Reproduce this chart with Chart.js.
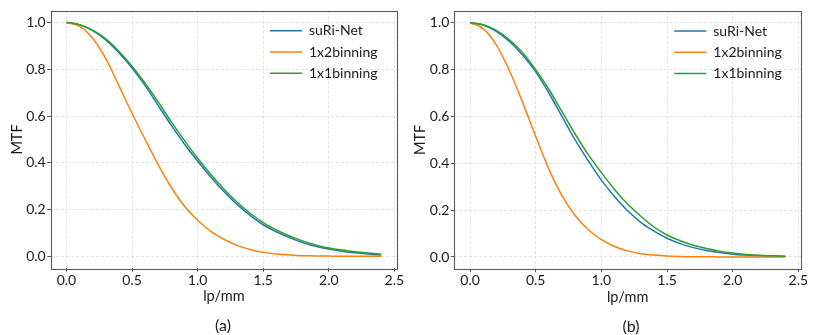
<!DOCTYPE html>
<html>
<head>
<meta charset="utf-8">
<script src="https://cdn.jsdelivr.net/npm/chart.js@4/dist/chart.umd.min.js"></script>
<style>
  html, body { margin: 0; padding: 0; background: #fff; }
  #wrap { position: relative; width: 831px; height: 335px; overflow: hidden; }
  canvas { position: absolute; left: 0; top: 0; }
  .cap { position: absolute; font-family: Lato, "Open Sans", sans-serif; font-size: 16px; color: #1a1a1a; transform: translate(-50%, -50%); white-space: nowrap; }
</style>
</head>
<body>
<div id="wrap">
  <canvas id="ca" width="831" height="335"></canvas>
  <canvas id="cb" width="831" height="335"></canvas>
  <div class="cap" style="left:223px; top:324px;">(a)</div>
  <div class="cap" style="left:631px; top:325px;">(b)</div>
</div>
<script>
// ---- data ----
const freq = [0.0,0.1,0.2,0.3,0.4,0.5,0.6,0.7,0.8,0.9,1.0,1.1,1.2,1.3,1.4,1.5,1.6,1.7,1.8,1.9,2.0,2.1,2.2,2.3,2.4];
const seriesNames = ["suRi-Net", "1x2binning", "1x1binning"];

// panel (a)
const a_suRiNet   = [1.000,0.990,0.965,0.925,0.870,0.805,0.730,0.645,0.560,0.480,0.408,0.340,0.278,0.223,0.176,0.136,0.106,0.081,0.060,0.044,0.032,0.023,0.016,0.011,0.007];
const a_bin1x2    = [1.000,0.983,0.932,0.845,0.730,0.612,0.500,0.392,0.295,0.215,0.155,0.108,0.074,0.048,0.030,0.018,0.011,0.007,0.004,0.003,0.002,0.001,0.001,0.001,0.001];
const a_bin1x1    = [1.000,0.990,0.967,0.930,0.877,0.813,0.740,0.660,0.575,0.495,0.420,0.352,0.289,0.233,0.185,0.145,0.114,0.088,0.067,0.050,0.037,0.028,0.021,0.015,0.010];

// panel (b)
const b_suRiNet   = [1.000,0.990,0.963,0.920,0.862,0.790,0.700,0.600,0.500,0.410,0.328,0.258,0.197,0.148,0.110,0.080,0.057,0.040,0.028,0.019,0.012,0.008,0.005,0.004,0.003];
const b_bin1x2    = [1.000,0.975,0.905,0.795,0.660,0.515,0.375,0.262,0.177,0.116,0.074,0.045,0.026,0.014,0.008,0.004,0.002,0.001,0.001,0.000,0.000,0.000,0.000,0.000,0.000];
const b_bin1x1    = [1.000,0.991,0.967,0.927,0.872,0.800,0.716,0.620,0.525,0.437,0.360,0.288,0.226,0.174,0.128,0.094,0.069,0.050,0.036,0.025,0.017,0.011,0.007,0.005,0.003];

const xTicks = [0.0, 0.5, 1.0, 1.5, 2.0, 2.5];
const yTicks = [0.0, 0.2, 0.4, 0.6, 0.8, 1.0];
const xLabel = "lp/mm";
const yLabel = "MTF";

// ---- styling ----
const COLORS = ["#1f77b4", "#ff7f0e", "#2ca02c"];
const FONT = "Lato, 'Open Sans', sans-serif";
const TEXT_COLOR = "#1a1a1a";
const AXIS_COLOR = "#5a5a5a";
const GRID_COLOR = "#dcdcdc";

const boxPlugin = {
  id: 'boxPlugin',
  afterDatasetsDraw(chart) {
    const a = chart.chartArea, ctx = chart.ctx;
    ctx.save();
    ctx.strokeStyle = AXIS_COLOR;
    ctx.lineWidth = 1.1;
    ctx.strokeRect(Math.round(a.left) + 0.5, Math.round(a.top) + 0.5, Math.round(a.right - a.left), Math.round(a.bottom - a.top));
    ctx.restore();
  }
};
const legendMover = {
  id: 'legendMover',
  afterLayout(chart, args, opts) {
    const lg = chart.legend;
    if (!lg) return;
    const w = lg.width, h = lg.height;
    lg.left = opts.left; lg.top = opts.top;
    lg.right = lg.left + w; lg.bottom = lg.top + h;
  }
};

function makeChart(id, series, pad, legendPos) {
  const datasets = series.map((vals, i) => ({
    label: seriesNames[i],
    data: freq.map((f, k) => ({ x: f, y: vals[k] })),
    borderColor: COLORS[i],
    backgroundColor: COLORS[i],
    borderWidth: 1.5,
    pointRadius: 0,
    cubicInterpolationMode: 'monotone',
    order: [2, 1, 0][i]
  }));
  return new Chart(document.getElementById(id), {
    type: 'line',
    data: { datasets },
    plugins: [boxPlugin, legendMover],
    options: {
      responsive: false,
      animation: false,
      events: [],
      layout: { padding: pad },
      plugins: {
        tooltip: { enabled: false },
        legendMover: legendPos,
        legend: {
          position: 'chartArea',
          align: 'start',
          labels: {
            usePointStyle: true,
            pointStyle: 'line',
            pointStyleWidth: 32,
            padding: 7.3,
            color: TEXT_COLOR,
            font: { family: FONT, size: 14 },
            sort: (a, b) => a.datasetIndex - b.datasetIndex
          }
        }
      },
      scales: {
        x: {
          type: 'linear',
          min: -0.12, max: 2.52,
          afterBuildTicks: s => { s.ticks = xTicks.map(v => ({ value: v })); },
          afterFit: s => { s.height = 43.7; },
          ticks: { color: TEXT_COLOR, font: { family: FONT, size: 14 }, padding: 0, maxRotation: 0, autoSkip: false, callback: v => Number(v).toFixed(1) },
          grid: { color: GRID_COLOR, lineWidth: 0.8, tickColor: AXIS_COLOR, tickLength: 3.5, tickWidth: 1 },
          border: { display: false, dash: [3, 2] },
          title: { display: true, text: xLabel, color: TEXT_COLOR, font: { family: FONT, size: 14.5 }, padding: { top: 0, bottom: 6.7 } }
        },
        y: {
          type: 'linear',
          min: -0.05, max: 1.05,
          afterBuildTicks: s => { s.ticks = yTicks.map(v => ({ value: v })); },
          afterFit: s => { s.width = 50.7; },
          ticks: { color: TEXT_COLOR, font: { family: FONT, size: 14 }, padding: 1.5, autoSkip: false, callback: v => Number(v).toFixed(1) },
          grid: { color: GRID_COLOR, lineWidth: 0.8, tickColor: AXIS_COLOR, tickLength: 3.5, tickWidth: 1 },
          border: { display: false, dash: [3, 2] },
          title: { display: true, text: yLabel, color: TEXT_COLOR, font: { family: FONT, size: 14.5 }, padding: { top: 8.3, bottom: 0 } }
        }
      }
    }
  });
}

makeChart('ca', [a_suRiNet, a_bin1x2, a_bin1x1], { left: 0, top: 10.7, right: 434, bottom: 23 }, { left: 262.7, top: 16.4 });
makeChart('cb', [b_suRiNet, b_bin1x2, b_bin1x1], { left: 403.6, top: 11, right: 30, bottom: 22.6 }, { left: 667, top: 16.7 });
</script>
</body>
</html>
